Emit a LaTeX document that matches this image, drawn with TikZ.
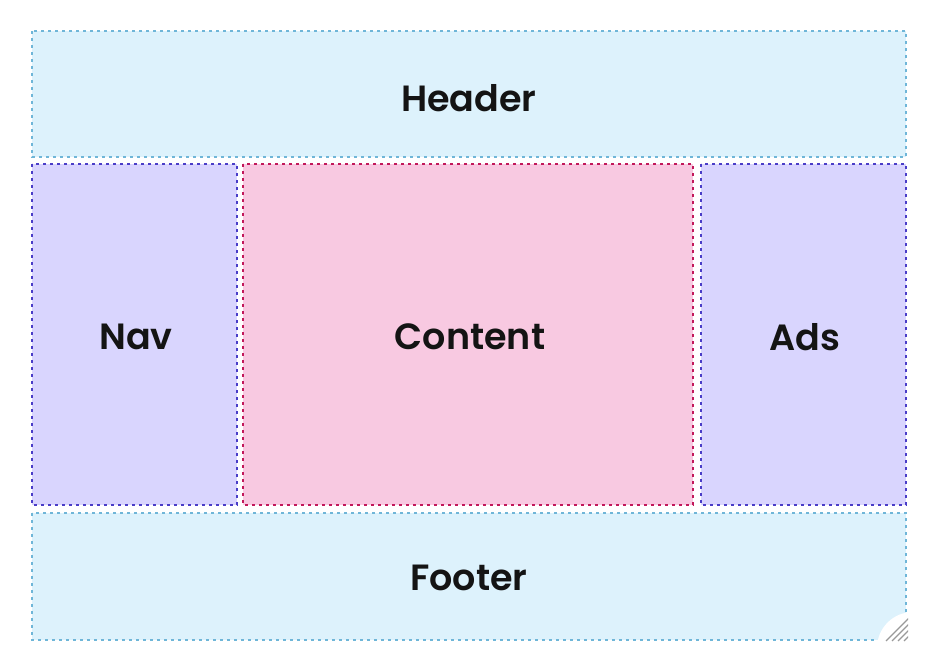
\documentclass[tikz,border=0pt]{standalone}
\usepackage{fontspec}
\setmainfont{Poppins}[BoldFont={Poppins SemiBold}]
\definecolor{hdrfill}{HTML}{DDF2FC}
\definecolor{hdrline}{HTML}{6FB6D8}
\definecolor{navfill}{HTML}{D9D5FE}
\definecolor{navline}{HTML}{4A3DC8}
\definecolor{cntfill}{HTML}{F8C9E1}
\definecolor{cntline}{HTML}{C2185B}
\definecolor{txt}{HTML}{141414}
\begin{document}
\begin{tikzpicture}[x=1pt,y=-1pt,
  area/.style={line width=2.8pt,dash pattern=on 2.8pt off 4.2pt},
  lbl/.style={font=\fontsize{36.5}{40}\selectfont\bfseries,text=txt}]
\useasboundingbox[fill=white] (0,0) rectangle (940,672);
% boxes
\draw[area,fill=hdrfill,draw=hdrline] (32,31) rectangle (906,157);
\draw[area,fill=navfill,draw=navline] (32,164) rectangle (237,505);
\draw[area,fill=cntfill,draw=cntline] (243,164) rectangle (693,505);
\draw[area,fill=navfill,draw=navline] (701,164) rectangle (906,505);
\draw[area,fill=hdrfill,draw=hdrline] (32,513) rectangle (906,640);
% labels
\node[lbl] (header) at (469,98) {Header};
\node[lbl] (nav) at (136,337) {Nav};
\node[lbl] (content) at (470,337) {Content};
\node[lbl] (ads) at (805,337) {Ads};
\node[lbl] (footer) at (469,578) {Footer};
% resize grip
\begin{scope}
\clip (0,0) rectangle (940,672);
\fill[white] (913,648) circle (36);
\end{scope}
\begin{scope}
\clip (870,610) rectangle (908,641);
\foreach \d in {0,6,12,18}
  \draw[gray!80,line width=1.2pt] (886+\d,641) -- (912,615+\d);
\end{scope}
\end{tikzpicture}
\end{document}
